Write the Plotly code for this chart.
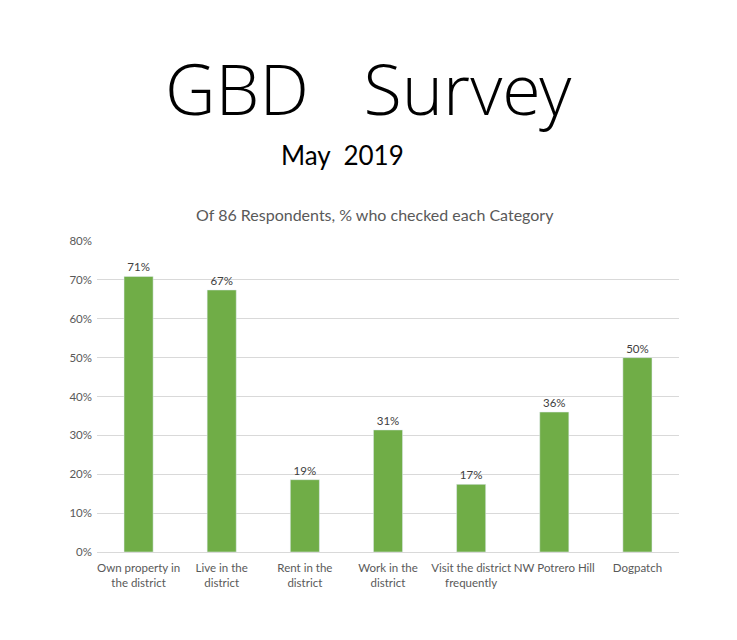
import plotly.graph_objects as go

# Survey data (86 respondents)
categories = ["Own property in<br>the district", "Live in the<br>district", "Rent in the<br>district",
              "Work in the<br>district", "Visit the district<br>frequently", "NW Potrero Hill", "Dogpatch"]
share = [0.709, 0.674, 0.186, 0.314, 0.174, 0.360, 0.500]
labels = ["71%", "67%", "19%", "31%", "17%", "36%", "50%"]

font_main = "Lato, Open Sans, sans-serif"
grey = "#595959"

# page body adds ~8px offset, so margins are given relative to that
L, R, T, B = 89, 66, 233, 96
W, H = 737, 640

fig = go.Figure()
fig.add_trace(go.Bar(x=categories, y=share, text=labels, textposition="outside",
                     textfont=dict(size=11.5, color="#404040", family=font_main),
                     marker_color="#70AD47", cliponaxis=False, width=0.35))

fig.update_layout(
    width=W, height=H,
    margin=dict(l=L, r=R, t=T, b=B),
    paper_bgcolor="white", plot_bgcolor="white",
    showlegend=False,
    font=dict(family=font_main, color=grey, size=11),
    yaxis=dict(range=[0, 0.8], dtick=0.1, tickformat=".0%", gridcolor="#D9D9D9",
               zeroline=False, showline=False, ticks="", ticklabelstandoff=4,
               tickfont=dict(size=11.5, color=grey)),
    xaxis=dict(showline=True, linecolor="#D9D9D9", tickfont=dict(size=11.5, color=grey),
               ticks="outside", ticklen=5, tickcolor="rgba(0,0,0,0)"),
)

titles = [("GBD   Survey", 70, "black", "Open Sans Light, Open Sans, sans-serif", 360, 80),
          ("May  2019", 26, "black", font_main, 334, 147),
          ("Of 86 Respondents, % who checked each Category", 16, grey, font_main, 367, 206)]
plot_w = W - L - R
plot_h = H - T - B
for text, size, color, fam, xpx, ypx in titles:
    fig.add_annotation(text=text, showarrow=False, xref="paper", yref="paper",
                       x=(xpx - L) / plot_w, y=(H - B - ypx) / plot_h,
                       xanchor="center", yanchor="middle",
                       font=dict(size=size, color=color, family=fam))

fig.write_html("out.html")
